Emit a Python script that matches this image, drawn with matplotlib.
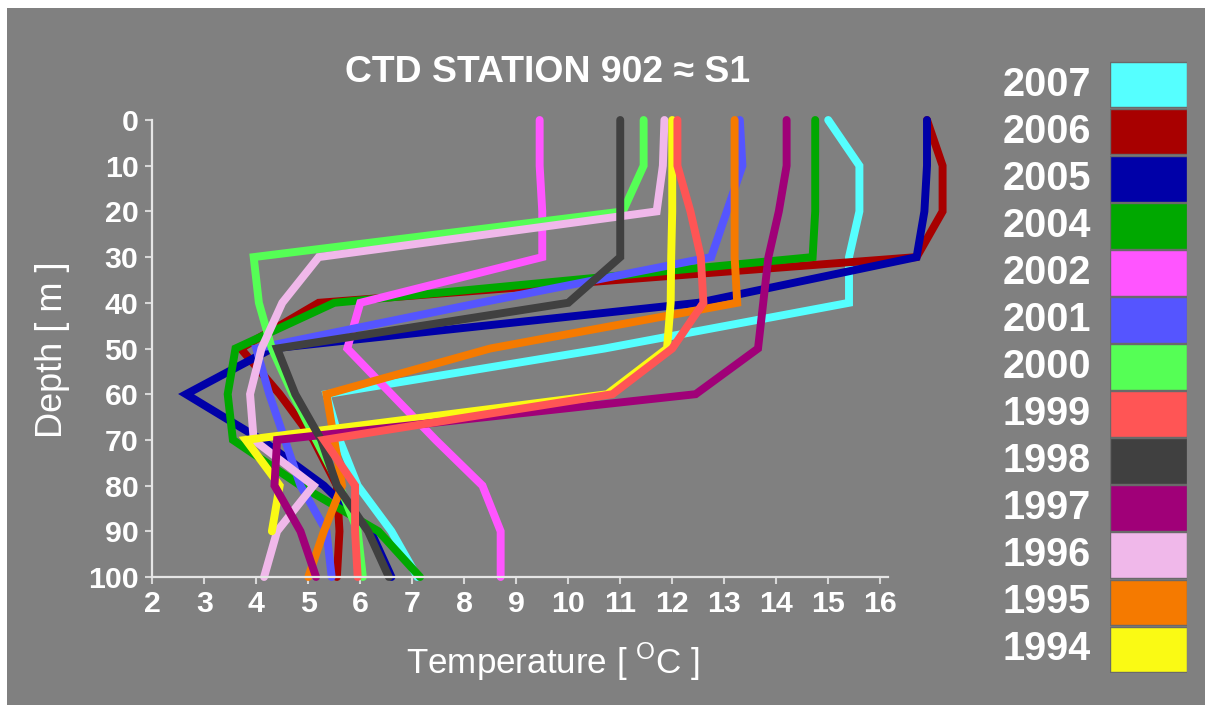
import numpy as np
import matplotlib
matplotlib.use('Agg')
import matplotlib.pyplot as plt
from matplotlib import font_manager
from matplotlib.patches import Rectangle

# CTD temperature profiles, one per year
depths = [0, 10, 20, 30, 40, 50, 60, 70, 80, 90, 100]

t2007 = [15.0, 15.6, 15.6, 15.4, 15.4, 10.7, 5.35, 5.6, 5.95, 6.6, 7.1]
t2006 = [16.9, 17.2, 17.2, 16.7, 5.2, 3.7, 4.45, 5.1, 5.55, 5.6, 5.55]
t2005 = [16.9, 16.9, 16.85, 16.7, 12.5, 4.3, 2.65, 4.1, 5.3, 6.2, 6.6]
t2004 = [14.75, 14.75, 14.75, 14.7, 5.5, 3.6, 3.45, 3.55, 4.85, 6.35, 7.15]
t2002 = [9.45, 9.45, 9.5, 9.5, 6.0, 5.75, 6.6, 7.45, 8.35, 8.7, 8.7]
t2001 = [13.3, 13.35, 13.05, 12.75, 8.3, 4.0, 4.25, 4.55, 4.85, 5.35, 5.45]
t2000 = [11.45, 11.45, 11.05, 3.95, 4.05, 4.3, 4.7, 5.15, 5.6, 5.95, 6.05]
t1999 = [12.1, 12.1, 12.35, 12.55, 12.6, 12.0, 10.85, 5.3, 5.9, 5.9, 5.95]
t1998 = [11.0, 11.0, 11.0, 11.0, 10.0, 4.4, 4.75, 5.25, 5.55, 6.15, 6.55]
t1997 = [14.2, 14.2, 14.05, 13.85, 13.75, 13.65, 12.45, 4.4, 4.35, 4.85, 5.15]
t1996 = [11.85, 11.82, 11.7, 5.2, 4.5, 4.1, 3.88, 3.95, 5.1, 4.4, 4.15]
t1995 = [13.2, 13.2, 13.2, 13.2, 13.25, 8.5, 5.35, 5.5, 5.65, 5.3, 5.0]
t1994 = [12.0, 12.0, 12.0, 11.98, 11.97, 11.9, 10.75, 3.8, 4.45, 4.3, np.nan]

years = ['2007', '2006', '2005', '2004', '2002', '2001', '2000',
         '1999', '1998', '1997', '1996', '1995', '1994']
profiles = [t2007, t2006, t2005, t2004, t2002, t2001, t2000,
            t1999, t1998, t1997, t1996, t1995, t1994]
colors = ['#55FFFF', '#A80000', '#0000A8', '#00A800', '#FF55FF', '#5555FF', '#55FF55',
          '#FF5555', '#404040', '#A00078', '#F0B8EA', '#F57A00', '#FAFA14']
# drawing order (last one ends up on top)
draw_order = ['2007', '2006', '2005', '2004', '2002', '2001', '2000',
              '1996', '1995', '1994', '1997', '1998', '1999']

fonts = {f.name for f in font_manager.fontManager.ttflist}
narrow = 'Liberation Sans Narrow' in fonts
fam = 'Liberation Sans Narrow' if narrow else 'Liberation Sans'
k = 1.0 if narrow else 0.84
plt.rcParams['font.family'] = [fam, 'DejaVu Sans']
plt.rcParams['mathtext.fontset'] = 'custom'
plt.rcParams['mathtext.rm'] = fam

W, H = 1213, 708
bg = '#808080'
fig = plt.figure(figsize=(W / 100, H / 100), dpi=100)
fig.patch.set_facecolor('white')
fig.add_artist(Rectangle((7 / W, 3 / H), 1198 / W, 697 / H, transform=fig.transFigure,
                         facecolor=bg, edgecolor='none', zorder=-10))

ax = fig.add_axes([152.3 / W, (H - 577) / H, (888 - 152.3) / W, (577 - 120) / H])
ax.set_facecolor('none')

for yr in draw_order:
    i = years.index(yr)
    ax.plot(profiles[i], depths, color=colors[i], lw=5.7, clip_on=False,
            solid_joinstyle='miter', solid_capstyle='round')

ax.set_xlim(2, 16.15)
ax.set_ylim(100, 0)
ax.set_xticks(range(2, 17))
ax.set_yticks(range(0, 101, 10))
for s in ['top', 'right']:
    ax.spines[s].set_visible(False)
for s in ['left', 'bottom']:
    ax.spines[s].set_color('#E6E6E6')
    ax.spines[s].set_linewidth(1.6)
ax.tick_params(axis='both', colors='#D8D8D8', length=5, width=1.5,
               labelcolor='white', labelsize=26 * k)
ax.tick_params(axis='x', pad=4)
ax.tick_params(axis='y', pad=5)
for lab in ax.get_xticklabels() + ax.get_yticklabels():
    lab.set_fontweight('bold')

fig.text(548 / W, 1 - 72 / H, 'CTD STATION 902 \u2248 S1', ha='center', va='center',
         color='white', fontsize=32 * k, fontweight='bold')
fig.text(553 / W, 1 - 662 / H, r'Temperature [ $^{\mathrm{O}}$C ]', ha='center', va='center',
         color='white', fontsize=30 * k)
fig.text(53 / W, 1 - 350 / H, 'Depth [ m ]', ha='center', va='center', rotation=90,
         color='white', fontsize=31 * k)

# colour key on the right
lax = fig.add_axes([1110 / W, (H - 673) / H, 77 / W, (673 - 61) / H])
lax.set_xlim(0, 1)
lax.set_ylim(len(years) - 0.5, -0.5)
lax.axis('off')
lax.barh(range(len(years)), 1, left=0, height=0.97, color=colors,
         edgecolor='#6A6A6A', linewidth=1)
for i, yr in enumerate(years):
    lax.text(-0.25, i, yr, ha='right', va='center', color='white',
             fontsize=34 * k, fontweight='bold', clip_on=False)

fig.savefig('out.png', dpi=100, facecolor=fig.get_facecolor())
